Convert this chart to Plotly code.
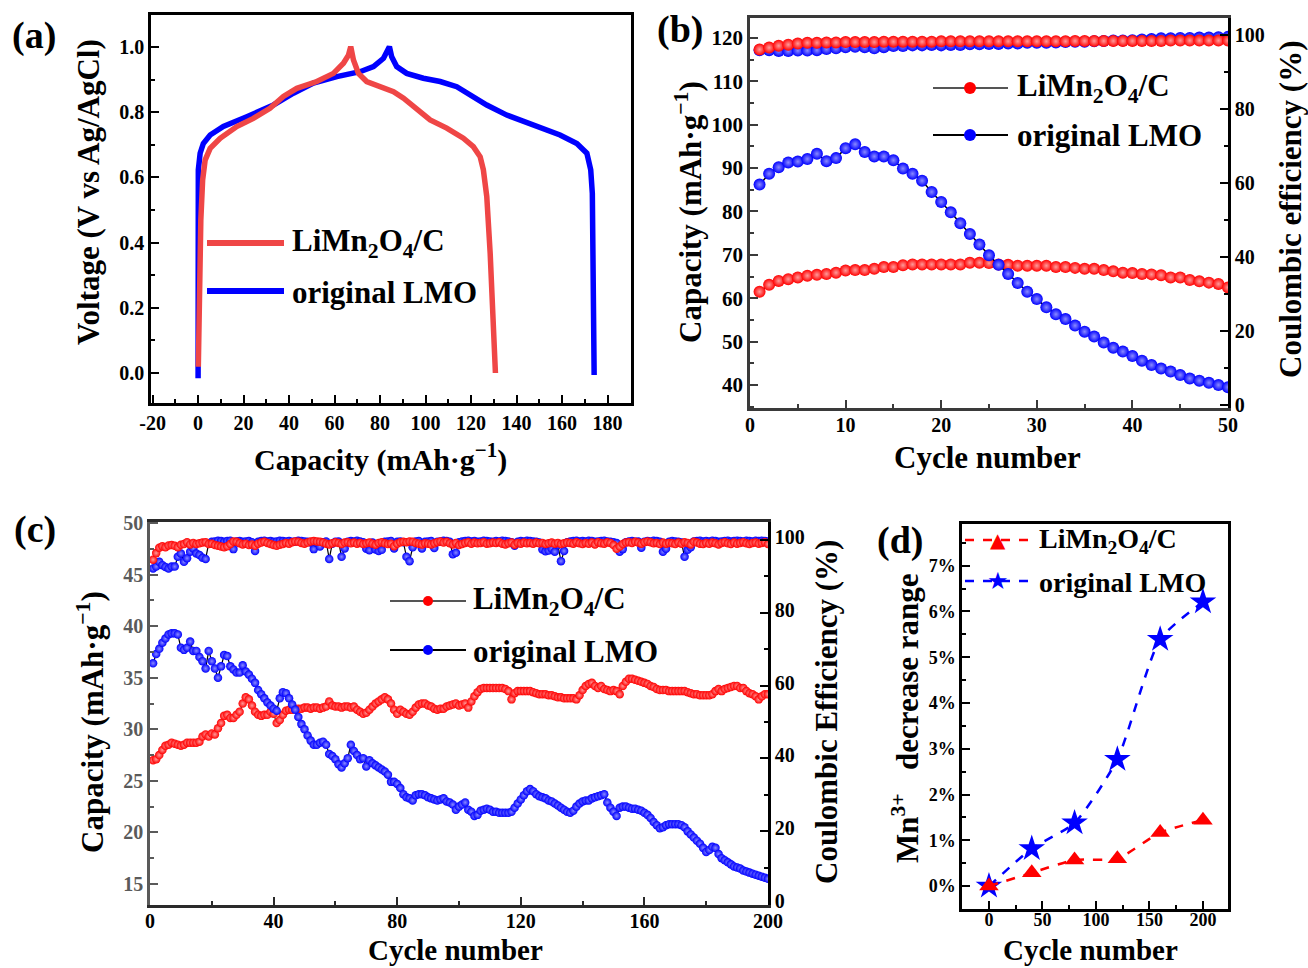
import plotly.graph_objects as go

# ---------------- DATA ----------------
# (a) charge/discharge curves
a_cap_c = [0.1, 0.6, 1.2, 2.0, 3.1, 5.3, 9.7, 17.0, 24.3, 31.6, 37.5, 43.4, 52.2, 59.5, 63.9, 66.1, 67.1,
           68.3, 70.5, 74.1, 80.0, 85.9, 90.3, 96.1, 102.0, 109.3, 116.6, 121.0, 124.0, 125.4, 126.9, 128.4, 130.7]
a_v_c = [0.019, 0.265, 0.469, 0.592, 0.653, 0.689, 0.720, 0.756, 0.781, 0.812, 0.848, 0.873, 0.894, 0.919, 0.950, 0.975, 1.001,
         0.960, 0.919, 0.894, 0.878, 0.863, 0.843, 0.807, 0.776, 0.751, 0.720, 0.694, 0.663, 0.623, 0.541, 0.367, 0.0]
a_cap_lmo = [0.0, 0.0, 0.0, 0.1, 0.9, 2.3, 5.3, 11.1, 21.4, 33.1, 41.9, 50.7, 61.0, 71.2, 77.1, 81.5, 84.1,
             85.1, 87.3, 91.7, 99.0, 106.4, 113.7, 119.6, 126.9, 135.7, 147.4, 159.1, 166.5, 170.9, 172.6, 173.3, 174.1]
a_v_lmo = [-0.016, 0.163, 0.469, 0.623, 0.674, 0.704, 0.730, 0.756, 0.786, 0.822, 0.858, 0.889, 0.909, 0.924, 0.940, 0.965, 1.001,
           0.970, 0.940, 0.919, 0.904, 0.894, 0.878, 0.853, 0.822, 0.791, 0.761, 0.730, 0.704, 0.674, 0.623, 0.551, -0.006]
a_xticks = [-20, 0, 20, 40, 60, 80, 100, 120, 140, 160, 180]
a_xticktext = ["-20", "0", "20", "40", "60", "80", "100", "120", "140", "160", "180"]
a_xminor = [-10, 10, 30, 50, 70, 90, 110, 130, 150, 170, 190]

# (b) 50 cycles
cycles_b = list(range(1, 51))
b_cap_c = [61.5, 63.1, 64.0, 64.4, 64.8, 65.2, 65.4, 65.6, 65.9, 66.4,
           66.5, 66.5, 66.8, 67.2, 67.2, 67.6, 67.8, 67.8, 67.8, 67.8,
           67.8, 67.8, 68.2, 68.2, 68.1, 67.8, 67.7, 67.5, 67.5, 67.5,
           67.5, 67.2, 67.2, 67.0, 66.8, 66.8, 66.5, 66.2, 65.9, 65.8,
           65.6, 65.5, 65.3, 64.8, 64.8, 64.2, 63.9, 63.6, 63.3, 62.5]
b_cap_lmo = [86.2, 88.7, 90.2, 91.3, 91.5, 92.1, 93.3, 91.6, 92.3, 94.6,
             95.5, 93.7, 92.7, 92.7, 91.8, 89.9, 88.7, 87.1, 84.5, 82.2,
             79.8, 77.3, 74.8, 72.4, 69.9, 67.7, 65.6, 63.5, 61.5, 59.8,
             57.9, 56.3, 55.2, 53.7, 52.3, 51.2, 49.8, 48.6, 47.7, 46.7,
             45.6, 44.6, 43.8, 43.1, 42.3, 41.5, 41.0, 40.5, 40.0, 39.5]
b_ce_c = [96.1, 96.6, 97.1, 97.4, 97.7, 97.9, 97.9, 98.0, 98.0, 98.1,
          98.1, 98.1, 98.1, 98.2, 98.2, 98.2, 98.2, 98.2, 98.2, 98.3,
          98.3, 98.3, 98.3, 98.3, 98.3, 98.3, 98.3, 98.3, 98.3, 98.3,
          98.3, 98.3, 98.3, 98.4, 98.4, 98.4, 98.4, 98.4, 98.4, 98.4,
          98.4, 98.4, 98.4, 98.5, 98.5, 98.5, 98.5, 98.5, 98.5, 98.5]
b_ce_lmo = [95.9, 95.9, 95.7, 95.7, 95.8, 95.8, 95.9, 96.2, 96.4, 96.7,
            96.8, 96.7, 96.4, 96.7, 97.0, 97.0, 97.2, 97.2, 97.3, 97.2,
            97.3, 97.3, 97.5, 97.5, 97.6, 97.6, 97.7, 97.7, 97.9, 97.9,
            97.9, 98.0, 98.1, 98.2, 98.2, 98.3, 98.4, 98.5, 98.5, 98.6,
            98.8, 98.9, 99.1, 99.1, 99.2, 99.2, 99.3, 99.3, 99.4, 99.5]

# (c) 200 cycles
cycles_c = list(range(1, 201))
c_cap_c = [27.0, 27.1, 27.5, 28.0, 28.4, 28.5, 28.7, 28.6, 28.5, 28.4,
           28.5, 28.7, 28.7, 28.7, 28.7, 28.8, 29.3, 29.5, 29.3, 29.6,
           29.5, 30.1, 30.6, 31.3, 31.4, 31.1, 31.1, 31.4, 31.7, 32.5,
           33.1, 32.9, 32.3, 31.7, 31.4, 31.3, 31.4, 31.4, 31.7, 31.5,
           30.6, 30.9, 31.4, 31.8, 31.9, 31.9, 32.0, 32.0, 32.0, 32.1,
           32.1, 32.0, 32.1, 32.1, 32.0, 32.1, 32.2, 32.7, 32.3, 32.2,
           32.2, 32.1, 32.2, 32.2, 32.1, 32.2, 31.9, 31.7, 31.5, 31.6,
           31.9, 32.2, 32.5, 32.7, 32.9, 33.1, 32.9, 32.5, 31.9, 31.5,
           31.9, 31.7, 31.5, 31.4, 31.7, 32.1, 32.4, 32.5, 32.5, 32.3,
           32.2, 32.0, 31.9, 32.0, 32.0, 32.2, 32.3, 32.4, 32.5, 32.3,
           32.4, 32.5, 32.1, 32.7, 33.2, 33.6, 33.9, 34.0, 34.0, 34.0,
           34.0, 34.0, 34.0, 34.0, 33.9, 33.7, 32.9, 33.5, 33.7, 33.7,
           33.7, 33.7, 33.7, 33.6, 33.5, 33.4, 33.4, 33.4, 33.3, 33.3,
           33.2, 33.1, 33.1, 33.0, 33.0, 33.0, 33.0, 32.9, 33.3, 33.8,
           34.2, 34.4, 34.5, 34.2, 34.0, 34.2, 33.9, 33.8, 33.7, 33.8,
           33.7, 33.4, 34.2, 34.6, 34.9, 34.9, 34.8, 34.7, 34.6, 34.5,
           34.4, 34.2, 34.1, 33.9, 33.8, 33.8, 33.8, 33.7, 33.7, 33.7,
           33.7, 33.7, 33.7, 33.6, 33.5, 33.4, 33.4, 33.3, 33.3, 33.3,
           33.3, 33.4, 33.7, 33.9, 33.7, 33.9, 34.0, 34.1, 34.2, 34.2,
           34.0, 34.0, 33.7, 33.5, 33.4, 33.2, 32.9, 33.2, 33.4, 33.4]
c_cap_lmo = [36.4, 37.3, 37.8, 38.4, 38.8, 39.2, 39.3, 39.3, 39.2, 37.9,
             37.7, 37.9, 38.5, 37.6, 37.6, 37.0, 36.6, 35.9, 37.6, 36.6,
             35.9, 35.0, 36.1, 37.2, 37.1, 36.1, 35.8, 35.5, 35.5, 36.2,
             35.6, 35.3, 34.9, 34.5, 33.8, 33.4, 33.0, 32.6, 32.3, 32.0,
             31.8, 33.0, 33.6, 33.5, 33.0, 32.4, 31.9, 31.2, 30.5, 30.0,
             29.4, 28.9, 28.5, 28.5, 28.7, 28.8, 28.5, 27.6, 27.4, 27.1,
             26.6, 26.3, 26.7, 27.2, 28.5, 27.9, 27.5, 27.1, 27.2, 26.4,
             27.0, 26.7, 26.5, 26.3, 26.1, 25.9, 25.6, 24.9, 24.9, 24.7,
             24.3, 23.7, 23.4, 23.3, 23.1, 23.6, 23.7, 23.7, 23.6, 23.4,
             23.3, 23.2, 23.1, 23.2, 23.3, 23.0, 22.9, 22.7, 22.2, 22.5,
             22.7, 22.9, 22.2, 22.0, 21.6, 21.7, 22.1, 22.2, 22.3, 22.2,
             22.0, 22.0, 21.9, 21.9, 21.9, 21.9, 22.0, 22.4, 22.8, 23.2,
             23.6, 24.0, 24.2, 24.0, 23.7, 23.5, 23.4, 23.3, 23.1, 23.0,
             22.8, 22.6, 22.4, 22.2, 22.0, 21.9, 22.1, 22.5, 22.8, 23.0,
             23.1, 23.1, 23.3, 23.4, 23.5, 23.6, 23.7, 22.9, 22.4, 22.0,
             21.6, 22.4, 22.5, 22.5, 22.4, 22.3, 22.3, 22.2, 22.1, 21.9,
             21.7, 21.4, 21.0, 20.7, 20.4, 20.5, 20.7, 20.8, 20.8, 20.8,
             20.8, 20.7, 20.5, 20.1, 19.8, 19.5, 19.2, 18.9, 18.5, 18.1,
             18.3, 18.6, 18.5, 17.9, 17.5, 17.3, 17.1, 16.9, 16.7, 16.6,
             16.5, 16.3, 16.2, 16.1, 16.0, 15.9, 15.8, 15.7, 15.6, 15.5]
c_ce_c = [94.6, 96.4, 97.9, 98.3, 98.0, 98.5, 98.6, 98.4, 98.0, 98.7,
          98.9, 99.4, 98.8, 99.2, 98.9, 99.1, 99.3, 99.4, 98.9, 99.0,
          98.6, 98.4, 98.2, 98.0, 98.3, 98.9, 99.6, 99.5, 99.1, 98.8,
          99.0, 98.6, 98.8, 98.4, 99.0, 99.3, 99.5, 99.2, 98.9, 98.6,
          98.4, 98.7, 98.9, 99.2, 99.0, 99.4, 99.6, 99.5, 99.2, 99.0,
          99.3, 99.6, 99.7, 99.6, 99.5, 99.3, 99.0, 98.8, 99.1, 99.4,
          99.2, 98.9, 99.3, 99.4, 99.1, 99.3, 99.0, 99.2, 98.9, 99.1,
          99.3, 99.0, 98.7, 99.2, 99.4, 99.1, 98.9, 99.0, 98.3, 99.0,
          99.4, 99.5, 99.4, 99.6, 99.5, 99.2, 99.0, 98.8, 99.1, 99.0,
          98.8, 99.1, 99.4, 99.6, 99.3, 99.5, 99.1, 98.8, 99.2, 98.6,
          98.9, 99.2, 99.4, 99.0, 99.3, 99.1, 99.2, 99.4, 99.0, 99.1,
          99.3, 99.2, 99.4, 99.0, 98.8, 99.1, 99.3, 98.7, 99.2, 99.0,
          99.3, 99.1, 99.2, 99.0, 99.3, 99.1, 99.2, 98.9, 99.1, 99.3,
          99.0, 99.2, 98.9, 99.1, 99.3, 99.2, 99.0, 99.4, 99.1, 98.9,
          99.2, 99.0, 99.3, 98.8, 99.4, 99.1, 99.0, 99.4, 99.2, 98.6,
          97.6, 98.2, 98.9, 99.3, 99.4, 99.2, 99.5, 99.3, 99.0, 99.4,
          99.6, 99.4, 99.1, 99.2, 98.9, 99.3, 99.0, 99.2, 99.1, 98.9,
          99.3, 99.0, 99.4, 99.2, 98.8, 99.5, 99.3, 99.0, 98.9, 99.2,
          99.0, 99.3, 99.1, 98.8, 99.2, 99.4, 99.1, 98.9, 99.3, 99.0,
          99.2, 99.4, 99.1, 98.9, 99.2, 99.3, 99.0, 99.2, 99.4, 98.9]
c_ce_lmo = [92.2, 92.7, 94.0, 93.1, 92.6, 92.2, 92.7, 92.7, 95.4, 96.3,
            94.0, 95.0, 96.8, 97.7, 96.3, 95.9, 95.1, 94.8, 99.1, 99.5,
            99.6, 99.8, 99.7, 99.5, 99.7, 99.8, 97.5, 99.6, 99.7, 99.5,
            99.6, 99.7, 99.4, 97.0, 99.5, 99.7, 99.8, 99.6, 99.7, 99.5,
            99.6, 99.8, 99.7, 99.6, 99.7, 99.5, 99.6, 99.8, 99.7, 99.6,
            99.5, 99.3, 97.5, 99.2, 98.2, 99.4, 99.6, 94.8, 99.0, 99.5,
            99.6, 95.4, 97.7, 99.5, 99.7, 99.6, 99.8, 99.6, 99.4, 97.6,
            97.2, 99.3, 97.4, 97.0, 97.3, 99.5, 99.6, 99.7, 97.7, 99.5,
            99.6, 99.4, 95.4, 94.2, 98.0, 99.6, 99.7, 97.7, 99.5, 99.6,
            99.7, 97.8, 99.5, 99.6, 99.8, 99.7, 99.5, 96.1, 96.5, 99.4,
            99.6, 99.7, 99.8, 99.6, 99.7, 99.5, 99.6, 99.8, 99.7, 99.6,
            99.5, 99.7, 99.6, 99.8, 99.7, 99.6, 99.4, 98.4, 99.5, 99.7,
            99.6, 99.8, 99.7, 99.6, 99.5, 99.3, 97.4, 96.9, 97.1, 97.6,
            96.8, 98.6, 94.2, 97.0, 99.4, 99.6, 99.7, 99.8, 99.6, 99.7,
            99.6, 99.8, 99.7, 99.5, 99.6, 99.7, 99.8, 99.6, 99.5, 99.4,
            99.2, 96.8, 97.5, 99.4, 99.6, 99.7, 99.5, 99.6, 97.9, 99.5,
            99.7, 99.6, 99.8, 99.7, 99.5, 96.8, 97.6, 99.5, 99.7, 99.6,
            99.5, 99.3, 95.4, 97.3, 98.0, 99.6, 99.7, 99.8, 99.6, 99.7,
            99.6, 99.8, 99.7, 99.5, 99.6, 99.7, 99.8, 99.6, 99.7, 99.8,
            99.7, 99.6, 99.8, 99.7, 99.6, 99.8, 99.7, 99.8, 99.7, 99.6]

# (d) Mn3+ decrease range (%)
d_cycles = [0, 40, 80, 120, 160, 200]
d_c = [0.0, 0.29, 0.57, 0.60, 1.17, 1.44]
d_lmo = [0.0, 0.82, 1.38, 2.77, 5.39, 6.21]

# ---------------- LAYOUT HELPERS ----------------
W, H = 1308, 968
FONT = "Liberation Serif"


def fx(px):
    return px / W


def fy(py):
    return 1 - py / H


RED_A = "#EF4646"
BLUE = "#0000FF"
RED = "#FF0000"

fig = go.Figure()

# (a)
fig.add_trace(go.Scatter(x=a_cap_lmo, y=a_v_lmo, mode="lines", name="original LMO",
                         line=dict(color=BLUE, width=5.5), xaxis="x", yaxis="y", showlegend=False))
fig.add_trace(go.Scatter(x=a_cap_c, y=a_v_c, mode="lines", name="LiMn2O4/C",
                         line=dict(color=RED_A, width=5.5), xaxis="x", yaxis="y", showlegend=False))


def ball(color, center, size):
    return dict(color=color, size=size, gradient=dict(type="radial", color=center), line=dict(width=0))


# (b)
fig.add_trace(go.Scatter(x=cycles_b, y=b_cap_c, mode="lines+markers", name="LiMn2O4/C",
                         line=dict(color="#333333", width=1.5), marker=ball(RED, "#FF9A9A", 12),
                         xaxis="x2", yaxis="y2", showlegend=False))
fig.add_trace(go.Scatter(x=cycles_b, y=b_cap_lmo, mode="lines+markers", name="original LMO",
                         line=dict(color="black", width=1.5), marker=ball(BLUE, "#8A8AFF", 12),
                         xaxis="x2", yaxis="y2", showlegend=False))
fig.add_trace(go.Scatter(x=cycles_b, y=b_ce_lmo, mode="lines+markers", name="original LMO CE",
                         line=dict(color="black", width=1.5), marker=ball(BLUE, "#8A8AFF", 12),
                         xaxis="x2", yaxis="y3", showlegend=False))
fig.add_trace(go.Scatter(x=cycles_b, y=b_ce_c, mode="lines+markers", name="LiMn2O4/C CE",
                         line=dict(color="#333333", width=1.5), marker=ball(RED, "#FF9A9A", 12),
                         xaxis="x2", yaxis="y3", showlegend=False))

# (c)
fig.add_trace(go.Scatter(x=cycles_c, y=c_cap_c, mode="lines+markers", name="LiMn2O4/C",
                         line=dict(color="#333333", width=1.2), marker=ball(RED, "#FF9A9A", 8.5),
                         xaxis="x3", yaxis="y4", showlegend=False))
fig.add_trace(go.Scatter(x=cycles_c, y=c_cap_lmo, mode="lines+markers", name="original LMO",
                         line=dict(color="black", width=1.2), marker=ball(BLUE, "#8A8AFF", 8.5),
                         xaxis="x3", yaxis="y4", showlegend=False))
fig.add_trace(go.Scatter(x=cycles_c, y=c_ce_lmo, mode="lines+markers", name="original LMO CE",
                         line=dict(color="black", width=1.2), marker=ball(BLUE, "#8A8AFF", 8.5),
                         xaxis="x3", yaxis="y5", showlegend=False))
fig.add_trace(go.Scatter(x=cycles_c, y=c_ce_c, mode="lines+markers", name="LiMn2O4/C CE",
                         line=dict(color="#333333", width=1.2), marker=ball(RED, "#FF9A9A", 8.5),
                         xaxis="x3", yaxis="y5", showlegend=False))

# (d)
fig.add_trace(go.Scatter(x=d_cycles, y=d_lmo, mode="lines+markers", name="original LMO",
                         line=dict(color=BLUE, width=2.5, dash="dash", shape="spline", smoothing=0.6),
                         marker=dict(symbol="star", size=20, color=BLUE),
                         xaxis="x4", yaxis="y6", showlegend=False))
fig.add_trace(go.Scatter(x=d_cycles, y=d_c, mode="lines+markers", name="LiMn2O4/C",
                         line=dict(color=RED, width=2.5, dash="dash", shape="spline", smoothing=0.6),
                         marker=dict(symbol="triangle-up", size=17, color=RED),
                         xaxis="x4", yaxis="y6", showlegend=False))


def axis(domain, rng, dtick, minor_dtick, anchor, linecolor="black", fontcolor="black",
         fontsize=20, mirror=True, **kw):
    d = dict(domain=domain, range=rng, anchor=anchor, showline=True, linewidth=2.5, linecolor=linecolor,
             mirror=mirror, ticks="inside", ticklen=8, tickwidth=2, tickcolor=linecolor,
             showgrid=False, zeroline=False, dtick=dtick, tick0=0, automargin=False,
             tickfont=dict(family=FONT, size=fontsize, color=fontcolor, weight="bold"),
             minor=dict(dtick=minor_dtick, ticks="inside", ticklen=4, tickwidth=2, tickcolor=linecolor,
                        showgrid=False))
    d.update(kw)
    return d


lay = dict(width=W, height=H, margin=dict(l=0, r=0, t=0, b=0, pad=0, autoexpand=False),
           paper_bgcolor="white", plot_bgcolor="white", showlegend=False,
           font=dict(family=FONT, size=20, color="black"))

# (a) axes
lay["xaxis"] = axis([fx(151), fx(631)], [-20.7, 190.3], 20, 10, "y",
                    tickmode="array", tickvals=a_xticks, ticktext=a_xticktext)
lay["xaxis"]["minor"] = dict(tickvals=a_xminor, ticks="inside", ticklen=4, tickwidth=2, tickcolor="black")
lay["yaxis"] = axis([fy(403), fy(15)], [-0.092, 1.098], 0.2, 0.1, "x", tickformat=".1f")

# (b) axes
lay["xaxis2"] = axis([fx(750), fx(1228)], [0, 50], 10, 5, "y2", linecolor="#3a3a3a", ticklabelstandoff=-3)
lay["yaxis2"] = axis([fy(408), fy(18)], [34.7, 124.6], 10, 5, "x2", linecolor="#3a3a3a", mirror=False,
                     fontsize=21)
lay["yaxis3"] = axis([fy(408), fy(18)], [-0.81, 104.6], 20, 10, "x2", overlaying="y2", side="right",
                     mirror=False)

# (c) axes
lay["xaxis3"] = axis([fx(150), fx(768)], [0, 200], 40, 20, "y4", linecolor="#2a2a2a", ticklabelstandoff=-4)
lay["yaxis4"] = axis([fy(905), fy(522)], [12.96, 50.1], 5, 2.5, "x3", linecolor="#5a5a5a",
                     fontcolor="#5a5a5a", mirror=False)
lay["yaxis5"] = axis([fy(905), fy(522)], [-0.27, 104.95], 20, 10, "x3", overlaying="y4", side="right",
                     mirror=False, ticklabelshift=-3)

# (d) axes
lay["xaxis4"] = axis([fx(962), fx(1228)], [-25.2, 223.4], 50, 25, "y6", fontsize=18, ticklabelstandoff=-7)
lay["yaxis6"] = axis([fy(909), fy(524)], [-0.5, 7.91], 1, 0.5, "x4", fontsize=18, ticksuffix="%")

fig.update_layout(**lay)

# ---------------- ANNOTATIONS ----------------
ann = []


def text(px, py, s, size, angle=0, xanchor="center", color="black", family=FONT):
    ann.append(dict(x=fx(px), y=fy(py), xref="paper", yref="paper", text=s, showarrow=False,
                    textangle=angle, xanchor=xanchor, yanchor="middle",
                    font=dict(family=family, size=size, color=color, weight="bold")))


# panel letters
text(34, 36, "(a)", 38)
text(680, 30, "(b)", 38)
text(35, 529, "(c)", 38)
text(900, 540, "(d)", 38)

# axis titles
text(88, 192, "Voltage (V vs Ag/AgCl)", 31, -90)
text(380, 458, "Capacity (mAh·g<sup>−1</sup>)", 30)
text(688, 212, "Capacity (mAh·g<sup>−1</sup>)", 31, -90)
text(1290, 210, "Coulombic efficiency (%)", 31, -90)
text(987, 458, "Cycle number", 31)
text(90, 722, "Capacity (mAh·g<sup>−1</sup>)", 31, -90)
text(826, 712, "Coulombic Efficiency (%)", 31, -90)
text(455, 950, "Cycle number", 29)
text(905, 718, "Mn<sup>3+</sup>&nbsp;&nbsp; decrease range", 31, -90)
text(1090, 950, "Cycle number", 29)

LBL_C = "LiMn<sub>2</sub>O<sub>4</sub>/C"
LBL_L = "original LMO"

shapes = []


def hline(x0, x1, py, color, width, dash="solid"):
    shapes.append(dict(type="line", xref="paper", yref="paper", x0=fx(x0), x1=fx(x1), y0=fy(py), y1=fy(py),
                       line=dict(color=color, width=width, dash=dash)))


def dot(px, py, r, color):
    shapes.append(dict(type="circle", xref="paper", yref="paper", x0=fx(px - r), x1=fx(px + r),
                       y0=fy(py + r), y1=fy(py - r), fillcolor=color, line=dict(width=0)))


# legend (a)
hline(207, 284, 243, RED_A, 6)
hline(207, 284, 291, BLUE, 6)
text(290, 243, LBL_C, 31, xanchor="left")
text(290, 292, LBL_L, 31, xanchor="left")

# legend (b)
hline(933, 1008, 88, "#555555", 2)
dot(970, 88, 6, RED)
hline(933, 1008, 135, "black", 2)
dot(970, 135, 6, BLUE)
text(1015, 88, LBL_C, 31, xanchor="left")
text(1015, 136, LBL_L, 31, xanchor="left")

# legend (c)
hline(390, 466, 601, "#555555", 2)
dot(428, 601, 5, RED)
hline(390, 466, 650, "black", 2)
dot(428, 650, 5, BLUE)
text(471, 601, LBL_C, 31, xanchor="left")
text(471, 651, LBL_L, 31, xanchor="left")

# legend (d)
hline(965, 1032, 540, RED, 2.5, "dash")
text(998, 540, "▲", 20, color=RED, family="DejaVu Sans")
hline(965, 1032, 581, BLUE, 2.5, "dash")
text(998, 581, "★", 24, color=BLUE, family="DejaVu Sans")
text(1037, 540, LBL_C, 28, xanchor="left")
text(1037, 582, LBL_L, 28, xanchor="left")

fig.update_layout(annotations=ann, shapes=shapes)

fig.write_html("out.html", config={"displayModeBar": False},
               post_script="document.body.style.margin='0';document.body.style.overflow='hidden';")
